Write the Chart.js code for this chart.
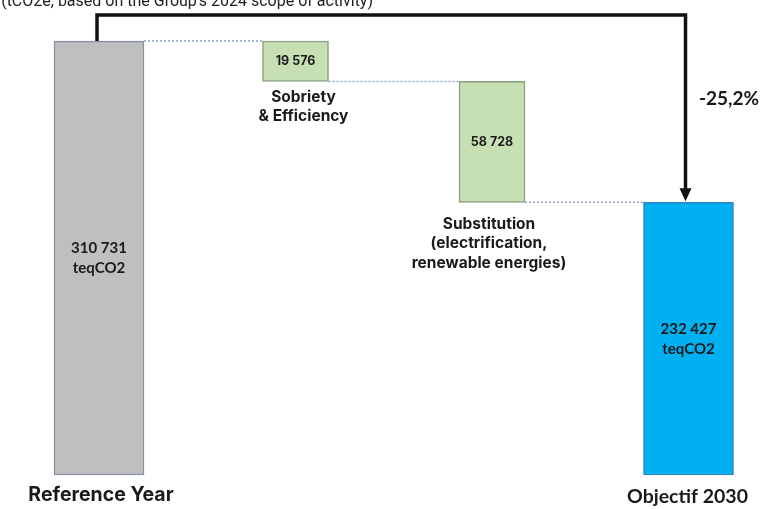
<!DOCTYPE html>
<html>
<head>
<meta charset="utf-8">
<script src="https://cdn.jsdelivr.net/npm/chart.js@4/dist/chart.umd.min.js"></script>
<style>
  html, body { margin: 0; padding: 0; background: #ffffff; }
  #wrap { width: 763px; height: 509px; position: relative; }
</style>
</head>
<body>
<div id="wrap"><canvas id="c" width="763" height="509"></canvas></div>
<script>
// Emission bridge: reference year -> 2030 target (teqCO2)
const categories = ['Reference Year', 'Sobriety & Efficiency', 'Substitution', 'Objectif 2030'];
const categoryLines = [
  ['Reference Year'],
  ['Sobriety', '& Efficiency'],
  ['Substitution', '(electrification,', 'renewable energies)'],
  ['Objectif 2030']
];
const totals = [310731, null, null, 232427];      // stock bars
const reductions = [null, 19576, 58728, null];    // reduction steps
const unitLabel = 'teqCO2';
const subtitle = "(tCO2e, based on the Group's 2024 scope of activity)";
const axisMin = 100000;
const axisMax = 323400;

// Floating ranges built from the values
const totalRanges = totals.map(v => v === null ? null : [axisMin, v]);
const reductionRanges = [];
let running = totals[0];
reductions.forEach(v => {
  if (v === null) { reductionRanges.push(null); return; }
  reductionRanges.push([running - v, running]);
  running -= v;
});
const pctChange = ((totals[3] - totals[0]) / totals[0] * 100).toFixed(1).replace('.', ',') + '%';

function fmt(v) { return String(v).replace(/\B(?=(\d{3})+(?!\d))/g, ' '); }

const overlay = {
  id: 'overlay',
  afterDatasetsDraw(chart) {
    const ctx = chart.ctx;
    const xs = chart.scales.x;
    const area = chart.chartArea;
    const tot = chart.getDatasetMeta(0).data;
    const red = chart.getDatasetMeta(1).data;
    const rect = el => {
      const p = el.getProps(['x', 'y', 'base', 'width'], true);
      return { l: p.x - p.width / 2, r: p.x + p.width / 2, t: Math.min(p.y, p.base), b: Math.max(p.y, p.base), cx: p.x };
    };
    const g = rect(tot[0]), s1 = rect(red[1]), s2 = rect(red[2]), o = rect(tot[3]);

    ctx.save();
    // dotted connectors between steps
    ctx.strokeStyle = '#8fa3c8';
    ctx.lineWidth = 1.5;
    ctx.setLineDash([2, 2]);
    [[g.r, g.t, s1.l], [s1.r, s1.b, s2.l], [s2.r, s2.b, o.l]].forEach(([x1, y, x2]) => {
      ctx.beginPath(); ctx.moveTo(x1, y); ctx.lineTo(x2, y); ctx.stroke();
    });
    ctx.setLineDash([]);

    // overall change arrow
    const topY = area.top;
    ctx.strokeStyle = '#111111';
    ctx.lineWidth = 3.5;
    ctx.lineJoin = 'miter';
    ctx.beginPath();
    ctx.moveTo(g.cx - 2, g.t);
    ctx.lineTo(g.cx - 2, topY);
    ctx.lineTo(o.cx - 3, topY);
    ctx.lineTo(o.cx - 3, o.t - 12);
    ctx.stroke();
    ctx.fillStyle = '#111111';
    ctx.beginPath();
    ctx.moveTo(o.cx - 3, o.t - 1);
    ctx.lineTo(o.cx - 9, o.t - 14);
    ctx.lineTo(o.cx + 3, o.t - 14);
    ctx.closePath();
    ctx.fill();

    ctx.textAlign = 'center';
    ctx.textBaseline = 'middle';
    ctx.fillStyle = '#1a1a1a';
    ctx.font = 'bold 19px Lato, sans-serif';
    ctx.fillText(pctChange, 729, 99);

    // values inside the bars
    ctx.font = 'bold 15px Lato, sans-serif';
    [[g, totals[0]], [o, totals[3]]].forEach(([r, v]) => {
      const cy = (r.t + r.b) / 2;
      ctx.fillText(fmt(v), r.cx, cy - 10);
      ctx.fillText(unitLabel, r.cx, cy + 10);
    });
    ctx.font = 'bold 12.5px Inter, sans-serif';
    [[s1, reductions[1]], [s2, reductions[2]]].forEach(([r, v]) => {
      ctx.fillText(fmt(v), r.cx, (r.t + r.b) / 2);
    });

    // step captions under the reduction bars
    ctx.font = 'bold 15.5px Inter, sans-serif';
    categoryLines[1].forEach((ln, i) => ctx.fillText(ln, s1.cx + 8, s1.b + 16 + i * 19));
    categoryLines[2].forEach((ln, i) => ctx.fillText(ln, s2.cx - 3, s2.b + 22 + i * 19.5));

    // category captions under the stock bars
    ctx.font = 'bold 19.5px Inter, sans-serif';
    ctx.fillText(categoryLines[0][0], xs.getPixelForValue(0) + 2, 495);
    ctx.font = 'bold 19.5px Lato, sans-serif';
    ctx.fillText(categoryLines[3][0], xs.getPixelForValue(3) - 1, 497);

    // subtitle line running off the top edge
    ctx.textAlign = 'right';
    ctx.textBaseline = 'alphabetic';
    ctx.font = '16px Roboto, sans-serif';
    ctx.fillStyle = '#222222';
    ctx.fillText(subtitle, 373, 6);
    ctx.restore();
  }
};

new Chart(document.getElementById('c'), {
  type: 'bar',
  data: {
    labels: categories,
    datasets: [
      {
        data: totalRanges,
        backgroundColor: ['#bfbfbf', null, null, '#00b0f0'],
        borderColor: ['#8791a6', null, null, '#2b87c6'],
        borderWidth: 1.5,
        borderSkipped: false,
        barThickness: 90,
        clip: false
      },
      {
        data: reductionRanges,
        backgroundColor: '#c6e0b4',
        borderColor: '#88a07f',
        borderWidth: 1.5,
        borderSkipped: false,
        barThickness: 66,
        clip: false
      }
    ]
  },
  options: {
    responsive: false,
    animation: false,
    events: [],
    layout: { padding: { left: 99, right: 74.5, top: 15, bottom: 34 } },
    plugins: { legend: { display: false }, tooltip: { enabled: false }, title: { display: false } },
    datasets: { bar: { grouped: false } },
    scales: {
      x: { display: false, offset: false },
      y: { display: false, min: axisMin, max: axisMax }
    }
  },
  plugins: [overlay]
});
</script>
</body>
</html>
